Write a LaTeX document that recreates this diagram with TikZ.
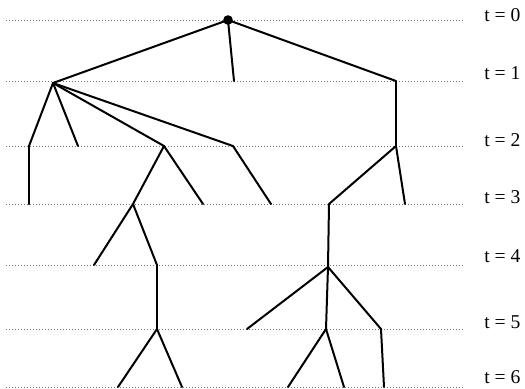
\documentclass[tikz,border=0pt]{standalone}
\usepackage{fontspec}
\setmainfont{Liberation Serif}
\begin{document}
\begin{tikzpicture}[x=0.5pt, y=-0.5pt]
\tikzset{
  branch/.style={line width=1pt, line cap=round},
  timeline/.style={black!55, line width=0.5pt, dash pattern=on 0.5pt off 1pt},
  tlabel/.style={anchor=base west, inner sep=0pt, font=\fontsize{9.8}{12}\selectfont}
}
\useasboundingbox (0,0) rectangle (525,388);
% time lines and their labels
\foreach \t/\y/\b in {0/20/21,1/81/79,2/146/146,3/204/203,4/265/262,5/329/328,6/387/383}{
  \coordinate (tl\t) at (6,\y);
  \coordinate (tr\t) at (463,\y);
  \draw[timeline] (tl\t) -- (tr\t);
  \node[tlabel] (lab\t) at (484,\b) {t = \t};
}
% tree points
\coordinate (r) at (228,20);
\coordinate (p) at (53,83);
\coordinate (q) at (234,81);
\coordinate (s) at (396,81);
\coordinate (pa) at (29,146);
\coordinate (pb) at (78,146);
\coordinate (pc) at (164,146);
\coordinate (pd) at (233,146);
\coordinate (sa) at (396,146);
\coordinate (paa) at (29,204);
\coordinate (pca) at (133,204);
\coordinate (pcb) at (203,204);
\coordinate (pda) at (271,204);
\coordinate (saa) at (329,204);
\coordinate (sab) at (405,204);
\coordinate (pcaa) at (94,265);
\coordinate (pcab) at (157,265);
\coordinate (saaa) at (328,267);
\coordinate (pcaba) at (157,329);
\coordinate (saaaa) at (247,329);
\coordinate (saaab) at (326,329);
\coordinate (saaac) at (381,329);
\coordinate (pcabaa) at (118,387);
\coordinate (pcabab) at (182,387);
\coordinate (saaaba) at (288,387);
\coordinate (saaabb) at (344,387);
\coordinate (saaaca) at (384,387);
% branches
\foreach \a/\b in {r/p, r/q, r/s, p/pa, p/pb, p/pc, p/pd, s/sa,
  pa/paa, pc/pca, pc/pcb, pd/pda, sa/saa, sa/sab,
  pca/pcaa, pca/pcab, saa/saaa, pcab/pcaba,
  saaa/saaaa, saaa/saaab, saaa/saaac,
  pcaba/pcabaa, pcaba/pcabab, saaab/saaaba, saaab/saaabb, saaac/saaaca}
  \draw[branch] (\a) -- (\b);
\fill (r) circle[radius=2.4pt];
\end{tikzpicture}
\end{document}
